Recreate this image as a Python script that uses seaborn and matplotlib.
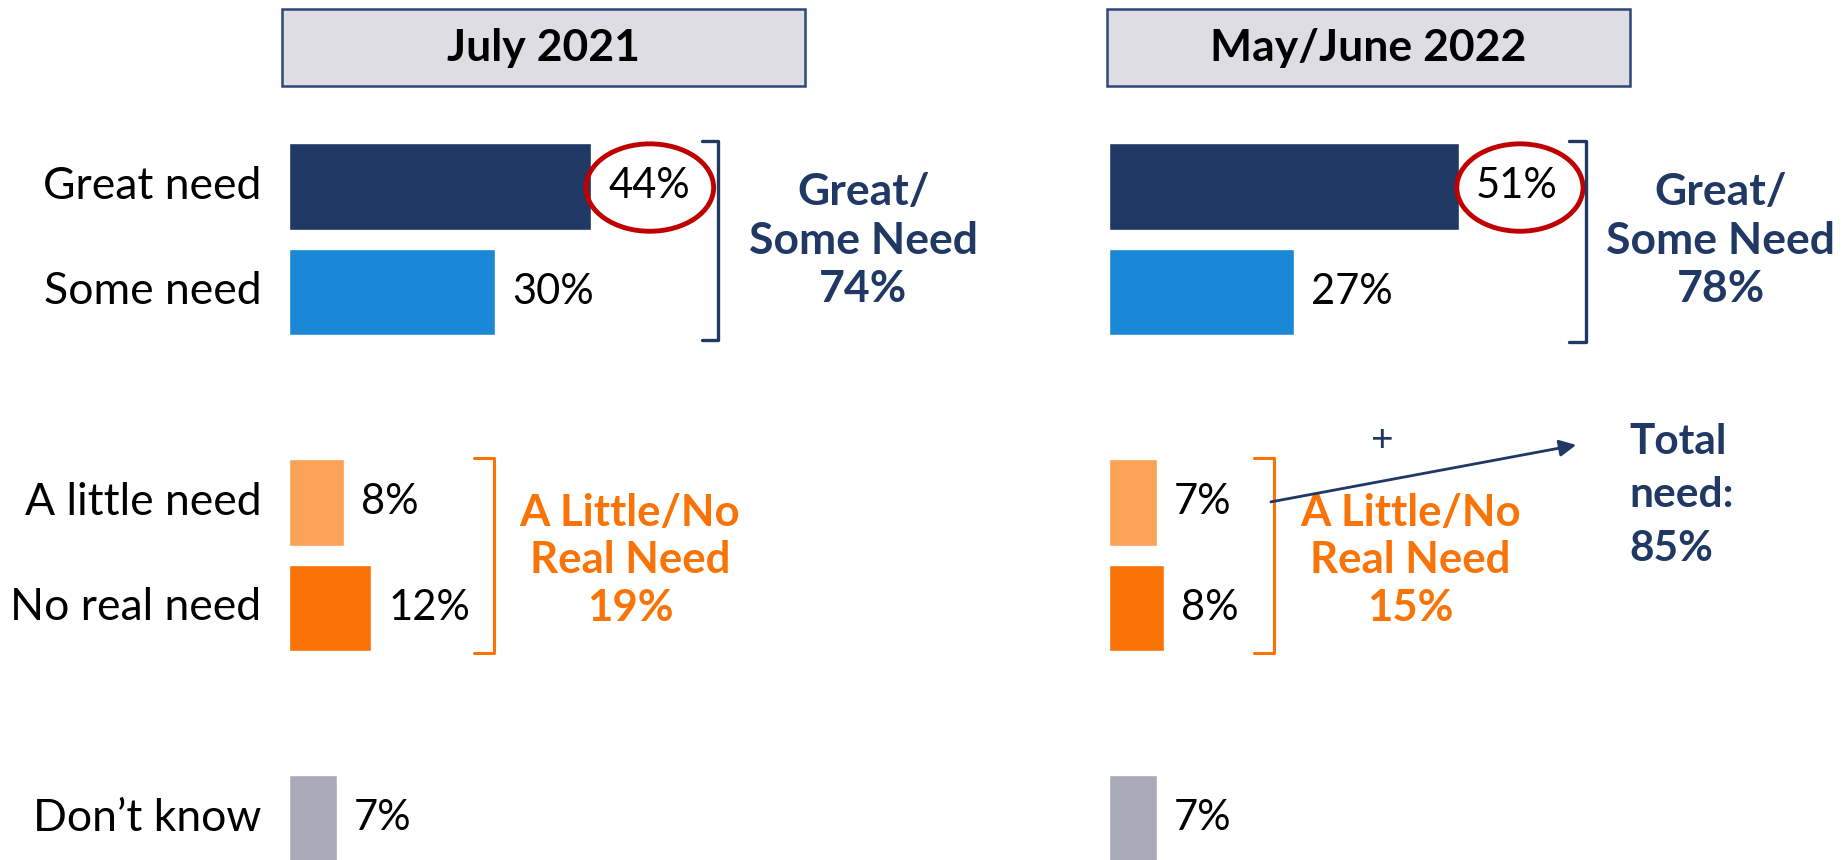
import matplotlib
matplotlib.use("Agg")
import matplotlib.pyplot as plt
from matplotlib.patches import Ellipse, Rectangle
import pandas as pd
import seaborn as sns

# data
categories = ["Great need", "Some need", "A little need", "No real need", "Don\u2019t know"]
july_2021 = [44, 30, 8, 12, 7]
may_june_2022 = [51, 27, 7, 8, 7]
panel_titles = ["July 2021", "May/June 2022"]
great_some = [74, 78]
little_no = [19, 15]
total_need = 85

COLORS = {
    "navy": "#1F3864",
    "bars": ["#1F3864", "#1A88D6", "#FBA257", "#F97306", "#A9AAB8"],
    "orange": "#F97306",
    "red": "#C00000",
    "box": "#DEDDE4",
    "box_edge": "#2E4778",
}

sns.set_theme(style="white")
plt.rcParams["font.family"] = ["Lato", "DejaVu Sans"]

# layout: slot positions of the bars (gaps between groups)
slots = [0, 1, 3, 4, 6]
PX_PER_PCT = 6.86
SLOT_PX = 105.3
W, H = 1841, 860


def make_ax(fig, left_px, right_px):
    top_px = 100
    ax = fig.add_axes([left_px / W, 0, (right_px - left_px) / W, (H - top_px) / H])
    ax.axis("off")
    return ax


def set_limits(ax, left_px, right_px):
    top_px = 100
    ax.set_xlim(0, (right_px - left_px) / PX_PER_PCT)
    # slot 0 sits 186.5 px below the top of the figure
    ax.set_ylim((H - 186.5) / SLOT_PX, -(186.5 - top_px) / SLOT_PX)


def draw_panel(ax, values, show_labels):
    df = pd.DataFrame({"cat": categories, "val": values, "pos": slots})
    sns.barplot(data=df, x="val", y="pos", hue="cat", palette=COLORS["bars"],
                orient="h", native_scale=True, width=0.82, legend=False,
                saturation=1, ax=ax)
    for v, p in zip(values, slots):
        ax.text(v + 2.5, p, f"{v}%", ha="left", va="center", fontsize=30, color="black")
    if show_labels:
        for c, p in zip(categories, slots):
            ax.text(-4.0, p, c, ha="right", va="center", fontsize=32, color="black")


def bracket(ax, x, y0, y1, hook, color, lw):
    ax.plot([x - hook, x, x, x - hook], [y0, y0, y1, y1], color=color, lw=lw,
            solid_joinstyle="round", clip_on=False)


fig = plt.figure(figsize=(W / 100, H / 100), dpi=100)
fig.patch.set_facecolor("white")

ax1 = make_ax(fig, 289, 1000)
ax2 = make_ax(fig, 1109, 1841)

draw_panel(ax1, july_2021, True)
draw_panel(ax2, may_june_2022, False)
set_limits(ax1, 289, 1000)
set_limits(ax2, 1109, 1841)

# red ellipses around the "Great need" values
ax1.add_patch(Ellipse((52.6, 0.01), 18.6, 0.83, fill=False, ec=COLORS["red"], lw=3.5, clip_on=False))
ax2.add_patch(Ellipse((59.9, 0.01), 18.4, 0.83, fill=False, ec=COLORS["red"], lw=3.5, clip_on=False))

# brackets and totals
bracket(ax1, 62.6, -0.43, 1.46, 2.4, COLORS["navy"], 2.4)
bracket(ax2, 69.5, -0.43, 1.48, 2.4, COLORS["navy"], 2.4)
bracket(ax1, 29.9, 2.58, 4.43, 3.0, COLORS["orange"], 2.2)
bracket(ax2, 24.1, 2.58, 4.43, 3.0, COLORS["orange"], 2.2)

ax1.text(83.7, 0.515, f"Great/\nSome Need\n{great_some[0]}%", ha="center", va="center",
         fontsize=32, fontweight="bold", color=COLORS["navy"], linespacing=1.26)
ax2.text(89.2, 0.515, f"Great/\nSome Need\n{great_some[1]}%", ha="center", va="center",
         fontsize=32, fontweight="bold", color=COLORS["navy"], linespacing=1.26)
ax1.text(49.7, 3.55, f"A Little/No\nReal Need\n{little_no[0]}%", ha="center", va="center",
         fontsize=31.5, fontweight="bold", color=COLORS["orange"], linespacing=1.22)
ax2.text(43.9, 3.55, f"A Little/No\nReal Need\n{little_no[1]}%", ha="center", va="center",
         fontsize=31.5, fontweight="bold", color=COLORS["orange"], linespacing=1.22)

# arrow to the total need
ax2.annotate("", xy=(68.5, 2.45), xytext=(23.2, 3.0),
             arrowprops=dict(arrowstyle="-|>", color=COLORS["navy"], lw=2,
                             mutation_scale=25), annotation_clip=False)
ax2.text(39.8, 2.41, "+", ha="center", va="center", fontsize=28, color=COLORS["navy"])
ax2.text(75.9, 2.93, f"Total\nneed:\n{total_need}%", ha="left", va="center",
         fontsize=30.5, fontweight="bold", color=COLORS["navy"], linespacing=1.5)

# title boxes
for left, title in zip([282, 1107], panel_titles):
    fig.patches.append(Rectangle((left / W, (H - 86) / H), 523 / W, 77 / H,
                                 transform=fig.transFigure, fc=COLORS["box"],
                                 ec=COLORS["box_edge"], lw=1.8))
    fig.text((left + 261.5) / W, (H - 47.5) / H, title, ha="center", va="center",
             fontsize=32, fontweight="bold", color="black")

fig.savefig("out.png", dpi=100, facecolor="white")
